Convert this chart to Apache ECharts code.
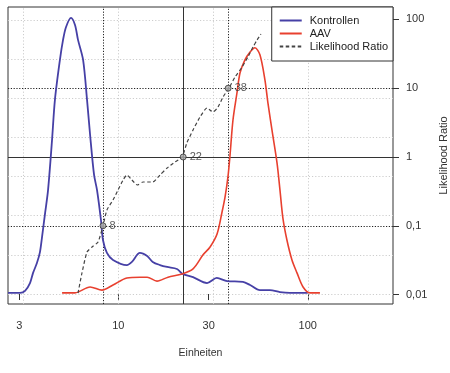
<!DOCTYPE html>
<html><head><meta charset="utf-8">
<script src="https://cdn.jsdelivr.net/npm/echarts@6/dist/echarts.min.js"></script>
<style>html,body{margin:0;padding:0;background:#fff}#c{width:450px;height:373px}</style>
</head><body><div id="c"></div>
<script>
// ---- data ----
const seriesNames = ['Kontrollen', 'AAV', 'Likelihood Ratio'];

const kontrollenX = [2.62, 2.85, 3.03, 3.22, 3.42, 3.55, 3.72, 3.86, 3.96, 4.11, 4.26, 4.47, 4.63, 4.92, 5.11, 5.30, 5.63, 5.91, 6.13, 6.52, 6.84, 7.10, 7.45, 7.72, 8.10, 8.30, 8.71, 9.38, 11.1, 11.8, 13.0, 14.2, 15.2, 16.6, 18.1, 20.4, 21.9, 24.8, 29.4, 33.1, 37.5, 45.5, 49.6, 55.9, 63.1, 71.3, 80.4, 100];
const kontrollenY = [0.03, 0.03, 0.03, 0.08, 0.28, 0.54, 0.79, 1.07, 1.46, 2.07, 2.66, 3.93, 4.96, 5.98, 6.49, 6.82, 7.05, 6.87, 6.49, 5.98, 4.96, 4.06, 3.04, 2.66, 1.89, 1.38, 1.05, 0.87, 0.74, 0.82, 1.05, 0.97, 0.82, 0.74, 0.69, 0.64, 0.51, 0.43, 0.28, 0.41, 0.33, 0.31, 0.23, 0.10, 0.10, 0.05, 0.03, 0.03];

const aavX = [5.05, 5.91, 7.10, 8.20, 9.38, 11.1, 13.0, 14.2, 16.0, 18.3, 21.7, 24.8, 28.0, 30.5, 33.2, 35.3, 36.6, 37.9, 38.8, 40.3, 42.3, 43.9, 46.6, 49.6, 52.6, 55.9, 59.4, 61.6, 64.7, 68.8, 71.3, 73.9, 77.6, 82.5, 87.7, 94.4, 102.8, 115.9];
const aavY = [0.03, 0.03, 0.18, 0.10, 0.23, 0.41, 0.43, 0.43, 0.33, 0.43, 0.51, 0.64, 1.00, 1.20, 1.53, 2.10, 2.48, 2.99, 3.50, 4.45, 5.14, 5.65, 5.98, 6.18, 6.29, 6.11, 5.47, 4.88, 4.19, 3.35, 2.66, 1.94, 1.38, 0.87, 0.54, 0.18, 0.03, 0.03];

const lrX = [6.13, 6.43, 6.84, 7.27, 7.82, 8.30, 8.71, 9.38, 9.96, 10.6, 11.1, 11.8, 12.6, 13.5, 15.2, 16.6, 18.1, 19.9, 21.7, 23.0, 24.8, 27.0, 29.4, 31.6, 33.6, 35.7, 38.4, 41.3, 45.0, 48.3, 51.4, 54.0, 56.6];
const lrY = [0.0105, 0.0206, 0.0416, 0.0492, 0.0582, 0.0993, 0.170, 0.237, 0.331, 0.463, 0.548, 0.463, 0.392, 0.433, 0.433, 0.548, 0.692, 0.846, 1.0, 1.60, 2.47, 3.82, 5.15, 4.51, 5.33, 7.45, 10.1, 14.5, 20.3, 28.4, 39.7, 50.2, 61.4];

const cutoffX = [8.3, 22, 38];
const cutoffLR = [0.1, 1, 10];
const cutoffLabels = ['8', '22', '38'];

const xTickValues = [3, 10, 30, 100];
const xTickLabels = ['3', '10', '30', '100'];
const yTickValues = [0.01, 0.1, 1, 10, 100];
const yTickLabels = ['0,01', '0,1', '1', '10', '100'];

const xGridValues = [3.162, 10, 31.62, 100];
const densityGridValues = [0, 1, 2, 3, 4, 5, 6, 7];

const xAxisName = 'Einheiten';
const yAxisName = 'Likelihood Ratio';

// ---- chart ----
const FONT = '"Liberation Sans", Arial, sans-serif';
const TXT = '#333';
const zip = (a, b) => a.map((v, i) => [v, b[i]]);
const lookup = (vals, labels) => v => {
  for (let i = 0; i < vals.length; i++) {
    if (Math.abs(Math.log10(v) - Math.log10(vals[i])) < 1e-6) return labels[i];
  }
  return '';
};

const chart = echarts.init(document.getElementById('c'), null, {renderer: 'canvas'});

const refLineData = [];
cutoffX.forEach((v, i) => refLineData.push({xAxis: v, lineStyle: {type: i === 1 ? 'solid' : [1.2, 1.6], color: i === 1 ? '#333' : '#222', width: 1}}));
cutoffLR.forEach((v, i) => refLineData.push({yAxis: v, lineStyle: {type: i === 1 ? 'solid' : [1.2, 1.6], color: i === 1 ? '#333' : '#222', width: 1}}));

chart.setOption({
  animation: false,
  backgroundColor: '#fff',
  textStyle: {fontFamily: FONT},
  grid: {left: 8, right: 57, top: 7, bottom: 69, show: true, borderColor: '#333', borderWidth: 1, backgroundColor: 'transparent', containLabel: false, outerBoundsMode: 'none'},
  legend: {
    data: seriesNames, orient: 'vertical', right: 57, top: 7, z: 10,
    padding: [8, 5, 9, 7], itemGap: 2, itemWidth: 22, itemHeight: 11,
    borderColor: '#333', borderWidth: 1, borderRadius: 0, backgroundColor: '#fff',
    selectedMode: false,
    itemStyle: {color: 'rgba(0,0,0,0)', borderColor: 'rgba(0,0,0,0)', borderWidth: 0, opacity: 0},
    textStyle: {fontSize: 11, color: '#222', fontFamily: FONT, padding: [0, 0, 0, 3]}
  },
  xAxis: {
    type: 'log', logBase: 10, min: 2.618, max: 281.6,
    axisLine: {show: false}, splitLine: {show: false},
    axisTick: {show: true, length: 6, lineStyle: {color: '#333'}, customValues: xTickValues},
    axisLabel: {customValues: xTickValues, formatter: lookup(xTickValues, xTickLabels), fontSize: 11, color: TXT, margin: 16, fontFamily: FONT},
    name: xAxisName, nameLocation: 'middle', nameGap: 44,
    nameTextStyle: {fontSize: 10.5, color: TXT, fontFamily: FONT}
  },
  yAxis: [{
    type: 'log', logBase: 10, position: 'right', min: 0.0073, max: 151.4,
    axisLine: {show: false}, splitLine: {show: false},
    axisTick: {show: true, length: 6, lineStyle: {color: '#333'}, customValues: yTickValues},
    axisLabel: {customValues: yTickValues, formatter: lookup(yTickValues, yTickLabels), fontSize: 11, color: TXT, margin: 13, fontFamily: FONT},
    name: yAxisName, nameLocation: 'middle', nameGap: 39,
    nameTextStyle: {fontSize: 11, color: TXT, fontFamily: FONT}
  }, {
    type: 'value', min: -0.255, max: 7.33, show: false, position: 'left'
  }],
  series: [
    {
      name: 'gridlines', type: 'line', xAxisIndex: 0, yAxisIndex: 1, data: [], silent: true, z: 1,
      markLine: {
        silent: true, z: 1, symbol: ['none', 'none'], label: {show: false}, animation: false,
        lineStyle: {color: '#cdcdcd', type: [1.2, 2], width: 1},
        data: xGridValues.map(v => ({xAxis: v})).concat(densityGridValues.map(v => ({yAxis: v})))
      }
    },
    {
      name: 'reflines', type: 'line', xAxisIndex: 0, yAxisIndex: 0, data: [], silent: true, z: 2,
      markLine: {
        silent: true, z: 2, symbol: ['none', 'none'], label: {show: false}, animation: false,
        data: refLineData
      }
    },
    {
      name: seriesNames[0], type: 'line', xAxisIndex: 0, yAxisIndex: 1,
      data: zip(kontrollenX, kontrollenY), symbol: 'none', smooth: 0.3,
      color: '#4640a6', lineStyle: {width: 1.8, color: '#4640a6'}, z: 3
    },
    {
      name: seriesNames[1], type: 'line', xAxisIndex: 0, yAxisIndex: 1,
      data: zip(aavX, aavY), symbol: 'none', smooth: 0.3,
      color: '#e8402f', lineStyle: {width: 1.6, color: '#e8402f'}, z: 3
    },
    {
      name: seriesNames[2], type: 'line', xAxisIndex: 0, yAxisIndex: 0,
      data: zip(lrX, lrY), symbol: 'none', smooth: 0.2,
      color: '#444', lineStyle: {width: 1.2, color: '#444', type: [3.5, 2.5]}, z: 4
    },
    {
      name: 'cutoffs', type: 'scatter', xAxisIndex: 0, yAxisIndex: 0,
      data: cutoffX.map((v, i) => [v, cutoffLR[i], cutoffLabels[i]]),
      symbol: 'circle', symbolSize: 6, z: 5, silent: true,
      itemStyle: {color: '#aaa', borderColor: '#333', borderWidth: 1},
      label: {show: true, position: 'right', distance: 3, formatter: p => p.data[2], fontSize: 11, color: TXT, fontFamily: FONT}
    }
  ]
});
</script>
</body></html>
